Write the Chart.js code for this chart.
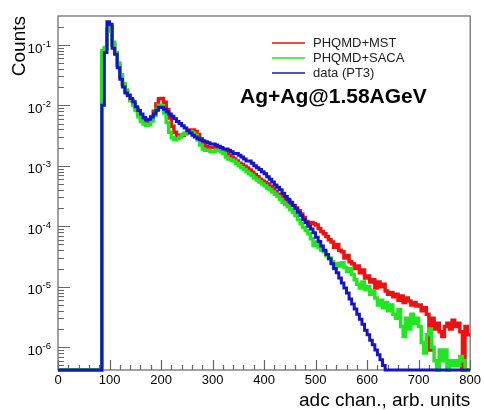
<!DOCTYPE html>
<html>
<head>
<meta charset="utf-8">
<script src="https://cdn.jsdelivr.net/npm/chart.js@4/dist/chart.umd.min.js"></script>
<style>
  html, body { margin: 0; padding: 0; background: #fff; }
  #wrap { width: 484px; height: 410px; }
</style>
</head>
<body>
<div id="wrap"><canvas id="chart" width="484" height="410"></canvas></div>
<script>
// histogram bins are 5 adc channels wide, first filled bin starts at 85
const binStart = 85;
const binWidth = 5;
const xMin = 0;
const xMax = 800;
const yMin = 4.2e-7;
const yMax = 0.30;
const yDecades = [-6, -5, -4, -3, -2, -1];
const seriesNames = ['PHQMD+MST', 'PHQMD+SACA', 'data (PT3)'];
const seriesColors = ['#ee1111', '#22e622', '#1414c8'];
const infoText = 'Ag+Ag@1.58AGeV';

// PHQMD+MST, bins 85..795
const mst = [
  0.075, 0.085, 0.18, 0.20, 0.10, 0.072, 0.046, 0.030, 0.022, 0.017,
  0.0145, 0.012, 0.0102, 0.0085, 0.0070, 0.0060, 0.0055, 0.0054, 0.0056, 0.0064,
  0.0080, 0.0105, 0.0128, 0.0130, 0.0112, 0.0085, 0.0062, 0.0045, 0.0036, 0.0032,
  0.0031, 0.0032, 0.0034, 0.0037, 0.0039, 0.0039, 0.0037, 0.0033, 0.0028, 0.0023,
  0.0021, 0.0020, 0.0020, 0.0020, 0.0020, 0.0020, 0.0019, 0.0018, 0.0017, 0.0015,
  0.0014, 0.0013, 0.0012, 0.0011, 0.00105, 0.00098, 0.00092, 0.00085, 0.00078, 0.00072,
  0.00066, 0.00060, 0.00056, 0.00053, 0.00050, 0.00046, 0.00042, 0.00038, 0.00034, 0.00032,
  0.00030, 0.00028, 0.00026, 0.00024, 0.00022, 0.00020, 0.00018, 0.00016, 0.00014, 0.00012,
  0.00011, 0.000115, 0.00011, 0.000105, 0.000092, 0.000082, 0.000075, 0.000068, 0.000060, 0.000055,
  0.000045, 0.000050, 0.000040, 0.000038, 0.000030, 0.000033, 0.000026, 0.000024, 0.000020, 0.000022,
  0.000017, 0.000019, 0.000014, 0.000015, 0.000012, 0.000013, 0.0000095, 0.000012, 0.000010, 0.000011,
  0.0000085, 0.0000075, 0.0000080, 0.0000068, 0.0000075, 0.0000060, 0.0000070, 0.0000055, 0.0000065, 0.0000058,
  0.0000050, 0.0000055, 0.0000048, 0.0000050, 0.0000040, 0.0000045, 0.0000035, 0.0000009, 0.0000030, 0.0000020,
  0.0000025, 0.0000018, 0.0000015, 0.0000022, 0.0000025, 0.0000020, 0.0000028, 0.0000022, 0.0000025, 0.0000018,
  0, 0.0000022, 0.0000016
];

// PHQMD+SACA, bins 85..795
const saca = [
  0.080, 0.090, 0.17, 0.19, 0.11, 0.075, 0.050, 0.032, 0.023, 0.018,
  0.015, 0.012, 0.0100, 0.0082, 0.0065, 0.0054, 0.0049, 0.0047, 0.0048, 0.0055,
  0.0068, 0.0085, 0.0100, 0.0098, 0.0075, 0.0052, 0.0036, 0.0029, 0.0027, 0.0028,
  0.0030, 0.0033, 0.0035, 0.0037, 0.0037, 0.0035, 0.0032, 0.0027, 0.0022, 0.0019,
  0.0018, 0.0018, 0.0017, 0.0017, 0.0018, 0.0018, 0.0017, 0.0016, 0.0014, 0.0013,
  0.00125, 0.0012, 0.0011, 0.0010, 0.00093, 0.00087, 0.00080, 0.00074, 0.00069, 0.00063,
  0.00058, 0.00054, 0.00050, 0.00047, 0.00043, 0.00040, 0.00037, 0.00034, 0.00031, 0.00028,
  0.00025, 0.00023, 0.00021, 0.00019, 0.00017, 0.00015, 0.00013, 0.00011, 0.000095, 0.000085,
  0.000075, 0.000062, 0.000048, 0.000055, 0.000045, 0.000040, 0.000038, 0.000033, 0.000030, 0.000026,
  0.000020, 0.000024, 0.000022, 0.000025, 0.000021, 0.000018, 0.000020, 0.000016, 0.000013, 0.000011,
  0.0000095, 0.000012, 0.0000090, 0.000010, 0.0000075, 0.0000085, 0.0000065, 0.0000050, 0.0000060, 0.0000045,
  0.0000055, 0.0000040, 0.0000050, 0.0000035, 0.0000030, 0.0000042, 0.0000022, 0.0000015, 0.0000030, 0.0000020,
  0.0000035, 0.0000025, 0.0000030, 0.0000022, 0.0000012, 0.0000008, 0.0000016, 0.0000020, 0.0000010, 0.0000006,
  0, 0.0000009, 0.0000006, 0.0000009, 0, 0.0000006, 0.0000005, 0.0000006, 0.0000005, 0.0000007,
  0.0000006, 0, 0
];

// data (PT3), bins 85..795
const pt3 = [
  0.010, 0.075, 0.24, 0.22, 0.088, 0.070, 0.042, 0.027, 0.020, 0.016,
  0.0145, 0.013, 0.0115, 0.0095, 0.0082, 0.0072, 0.0063, 0.0058, 0.0059, 0.0064,
  0.0072, 0.0083, 0.0093, 0.0092, 0.0086, 0.0078, 0.0072, 0.0066, 0.0060, 0.0054,
  0.0050, 0.0046, 0.0042, 0.0038, 0.0035, 0.0032, 0.0030, 0.0028, 0.0027, 0.0026,
  0.0025, 0.0024, 0.0023, 0.0023, 0.0022, 0.0021, 0.0020, 0.0019, 0.0019, 0.0018,
  0.0017, 0.0016, 0.0016, 0.0015, 0.0014, 0.0013, 0.0012, 0.0012, 0.0011, 0.0010,
  0.00093, 0.00087, 0.00080, 0.00074, 0.00066, 0.00060, 0.00054, 0.00048, 0.00044, 0.00040,
  0.00035, 0.00031, 0.00028, 0.00025, 0.00022, 0.000195, 0.00017, 0.00015, 0.00013, 0.000115,
  0.00010, 0.000090, 0.000078, 0.000066, 0.000056, 0.000047, 0.000040, 0.000034, 0.000029, 0.000024,
  0.000020, 0.000017, 0.000014, 0.0000115, 0.0000095, 0.0000079, 0.0000063, 0.0000052, 0.0000043, 0.0000035,
  0.0000029, 0.0000024, 0.0000019, 0.0000016, 0.0000013, 0.0000011, 0.00000090, 0.00000075, 0.00000062, 0.00000050,
  0, 0, 0, 0, 0, 0, 0, 0, 0, 0,
  0, 0, 0, 0, 0, 0, 0, 0, 0, 0,
  0, 0, 0, 0, 0, 0, 0, 0, 0, 0,
  0, 0, 0
];

const FONT = '"Liberation Sans", Arial, Helvetica, sans-serif';

// empty bins are drawn on the axis floor, like ROOT does
function toPoints(values) {
  const pts = [{ x: xMin, y: yMin }];
  values.forEach((v, i) => {
    pts.push({ x: binStart + i * binWidth, y: v > 0 ? v : yMin });
  });
  const last = values[values.length - 1];
  pts.push({ x: xMax, y: last > 0 ? last : yMin });
  return pts;
}

// frame and inward ticks, ROOT style
const rootFrame = {
  id: 'rootFrame',
  beforeDatasetsDraw(chart) {
    const { ctx, chartArea: a, scales: { x, y } } = chart;
    ctx.save();
    ctx.strokeStyle = '#666';
    ctx.lineWidth = 1.2;
    ctx.strokeRect(a.left, a.top, a.right - a.left, a.bottom - a.top);
    ctx.beginPath();
    for (let v = xMin; v <= xMax; v += 20) {
      const px = Math.round(x.getPixelForValue(v)) + 0.5;
      const len = v % 100 === 0 ? 10 : 5;
      ctx.moveTo(px, a.bottom);
      ctx.lineTo(px, a.bottom - len);
    }
    for (let e = -7; e <= 0; e++) {
      for (let k = 1; k < 10; k++) {
        const v = k * Math.pow(10, e);
        if (v < yMin || v > yMax) continue;
        const py = Math.round(y.getPixelForValue(v)) + 0.5;
        ctx.moveTo(a.left, py);
        ctx.lineTo(a.left + (k === 1 ? 12 : 6), py);
      }
    }
    ctx.stroke();
    ctx.restore();
  },
  afterDraw(chart) {
    const { ctx, scales: { y } } = chart;
    ctx.save();
    ctx.fillStyle = '#000';
    ctx.textAlign = 'right';
    ctx.textBaseline = 'alphabetic';
    // y tick labels 10^n
    yDecades.forEach(e => {
      const py = y.getPixelForValue(Math.pow(10, e));
      const sup = '-' + (-e);
      ctx.font = '9.5px ' + FONT;
      const supW = ctx.measureText(sup).width;
      ctx.fillText(sup, 51, py + 1.7);
      ctx.font = '13.5px ' + FONT;
      ctx.fillText('10', 51 - supW, py + 7.7);
    });
    // legend
    ctx.textAlign = 'left';
    ctx.textBaseline = 'middle';
    ctx.font = '13px ' + FONT;
    seriesNames.forEach((name, i) => {
      const ly = 43 + i * 15;
      ctx.strokeStyle = seriesColors[i];
      ctx.lineWidth = 1.5;
      ctx.beginPath();
      ctx.moveTo(272, ly);
      ctx.lineTo(305, ly);
      ctx.stroke();
      ctx.fillStyle = '#222';
      ctx.fillText(name, 313, ly);
    });
    // collision system label
    ctx.font = 'bold 21px ' + FONT;
    ctx.fillStyle = '#000';
    ctx.textBaseline = 'alphabetic';
    ctx.fillText(infoText, 240, 103);
    ctx.restore();
  }
};

const datasets = [mst, saca, pt3].map((vals, i) => ({
  label: seriesNames[i],
  data: toPoints(vals),
  borderColor: seriesColors[i],
  borderWidth: i === 2 ? 3 : 3.5,
  pointRadius: 0,
  stepped: true,
  fill: false,
  clip: false,
  order: 3 - i
}));

new Chart(document.getElementById('chart').getContext('2d'), {
  type: 'line',
  data: { datasets: datasets },
  options: {
    responsive: false,
    devicePixelRatio: 1,
    animation: false,
    layout: { padding: { top: 16, right: 12, left: 0, bottom: 0 } },
    plugins: {
      legend: { display: false },
      tooltip: { enabled: false }
    },
    scales: {
      x: {
        type: 'linear',
        min: xMin,
        max: xMax,
        grid: { display: false, drawTicks: false },
        border: { display: false },
        ticks: {
          stepSize: 100,
          color: '#000',
          padding: 3,
          maxRotation: 0,
          font: { family: FONT, size: 13 }
        },
        title: {
          display: true,
          text: 'adc chan., arb. units',
          align: 'end',
          color: '#000',
          padding: 0,
          font: { family: FONT, size: 19, lineHeight: 1 }
        },
        afterFit(scale) { scale.height = 40; }
      },
      y: {
        type: 'logarithmic',
        min: yMin,
        max: yMax,
        grid: { display: false, drawTicks: false },
        border: { display: false },
        ticks: { display: false },
        title: {
          display: true,
          text: 'Counts',
          align: 'end',
          color: '#000',
          padding: { top: 10, bottom: 0 },
          font: { family: FONT, size: 19, lineHeight: 1 }
        },
        afterFit(scale) { scale.width = 58; }
      }
    }
  },
  plugins: [rootFrame]
});
</script>
</body>
</html>
